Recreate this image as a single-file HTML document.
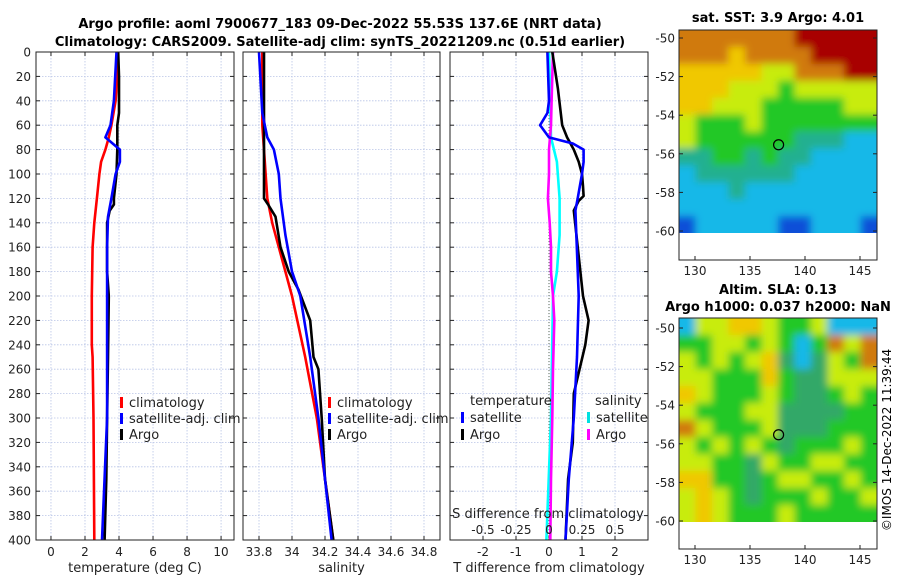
<!DOCTYPE html>
<html><head><meta charset="utf-8"><style>
body{margin:0;background:#fff;}
svg{display:block;font-family:"DejaVu Sans","Liberation Sans",sans-serif;}
</style></head><body>
<svg id="fig" width="900" height="580" viewBox="0 0 900 580">
<text x="340" y="28" text-anchor="middle" font-size="13" font-weight="bold">Argo profile: aoml 7900677_183 09-Dec-2022 55.53S 137.6E (NRT data)</text>
<text x="340" y="46" text-anchor="middle" font-size="13" font-weight="bold">Climatology: CARS2009. Satellite-adj clim: synTS_20221209.nc (0.51d earlier)</text>
<text x="778" y="22" text-anchor="middle" font-size="13" font-weight="bold">sat. SST: 3.9 Argo: 4.01</text>
<text x="778" y="294" text-anchor="middle" font-size="13" font-weight="bold">Altim. SLA: 0.13</text>
<text x="778" y="311" text-anchor="middle" font-size="13" font-weight="bold">Argo h1000: 0.037 h2000: NaN</text>
<text transform="translate(891,440) rotate(-90)" text-anchor="middle" font-size="12">©IMOS 14-Dec-2022 11:39:44</text>
<defs><filter id="bl"><feGaussianBlur stdDeviation="4"/></filter>
<clipPath id="c1"><rect x="679" y="30" width="198" height="203"/></clipPath>
<clipPath id="c2"><rect x="679" y="318" width="198" height="204"/></clipPath></defs>
<g id="g"></g>
</svg>
<script>
// ---- data ----
const depthTicks=[0,20,40,60,80,100,120,140,160,180,200,220,240,260,280,300,320,340,360,380,400];
const tempTicks=[0,2,4,6,8,10];
const salTicks=[33.8,34,34.2,34.4,34.6,34.8];
const tdiffTicks=[-2,-1,0,1,2];
const sdiffTicks=[-0.5,-0.25,0,0.25,0.5];
const sdiffTickLabels=["-0.5","-0.25","0","0.25","0.5"];
const climTempDepth=[0,20,40,60,70,80,90,100,120,140,160,200,240,250,300,400];
const climTemp=[3.9,3.9,3.8,3.55,3.4,3.2,2.95,2.85,2.7,2.55,2.45,2.4,2.4,2.45,2.5,2.55];
const satTempDepth=[0,40,60,70,80,90,100,120,135,160,200,300,400];
const satTemp=[3.85,3.7,3.5,3.2,4.05,4.05,3.8,3.55,3.35,3.3,3.3,3.3,3.0];
const argoTempDepth=[0,20,50,60,80,100,120,125,130,140,180,200,250,300,350,400];
const argoTemp=[3.95,4.0,4.0,3.9,3.9,3.85,3.7,3.7,3.45,3.3,3.3,3.4,3.35,3.3,3.25,3.15];
const climSalDepth=[0,60,120,140,160,200,250,300,350,400];
const climSal=[33.82,33.82,33.85,33.88,33.92,34.0,34.08,34.15,34.2,34.25];
const satSalDepth=[0,50,70,80,100,120,150,180,200,250,300,350,400];
const satSal=[33.8,33.82,33.85,33.89,33.92,33.93,33.96,34.0,34.05,34.11,34.16,34.2,34.24];
const argoSalDepth=[0,60,80,100,120,125,135,160,180,195,220,250,260,300,350,400];
const argoSal=[33.83,33.83,33.83,33.83,33.83,33.855,33.9,33.93,33.98,34.04,34.11,34.13,34.16,34.18,34.2,34.25];
const tdSatDepth=[0,40,50,60,70,75,80,90,100,120,130,200,250,300,350,400];
const tdSat=[-0.05,0,-0.05,-0.27,0,0.72,1.05,1.05,1.0,0.87,0.8,0.9,0.85,0.75,0.6,0.5];
const tdArgoDepth=[0,30,60,70,80,90,100,110,118,122,130,200,220,240,280,320,350,400];
const tdArgo=[0.1,0.27,0.4,0.55,0.75,0.9,1.0,1.03,1.05,0.9,0.75,1.03,1.2,1.1,0.75,0.72,0.58,0.5];
const sdSatDepth=[0,70,90,120,150,180,200,300,400];
const sdSat=[0,0.015,0.06,0.08,0.08,0.06,0.03,0.015,-0.02];
const sdArgoDepth=[0,40,60,80,100,120,140,160,180,200,220,260,300,350,400];
const sdArgo=[0.03,0.02,0.015,0,0,-0.008,0.005,0.015,0.015,0.03,0.04,0.03,0.025,0.015,0.01];
const lonTicks=[130,135,140,145];
const latTicks=[-50,-52,-54,-56,-58,-60];
const argoLon=137.6, argoLat=-55.53;
const sstGrid=["OOOOOOORRRRR","OOOYOOOORRRR","YYYYYyyOOORR","YYYyyyGyyyyy","YYyyyGGGGGyy","yGGGyGGGGGGG","yGGGGGGTTTCC","TTGGTGTTCCCC","CTTTTTTCCCCC","CCCTCCCCCCCC","CCCCCCCCCCCC","BCCCCCBBCCCB"];
const slaGrid=["CyyYYyGGyCCC","GGyyGyGCGOyO","yGyGyYDCDyGO","yyGGGYGDDyyy","YyGGGyGDDGyG","yGGGyyDDDDGG","OyGGGyDDDGGG","yGyGyGDGGGyG","yyGGDyGGyyGG","YYGGDGyyGGyG","yYyGDGGGyGGy","yYyGGGyGGGGG"];
// ---- helpers ----
const NS="http://www.w3.org/2000/svg";
const G=document.getElementById('g');
function mk(t,a,p){const e=document.createElementNS(NS,t);for(const k in a)e.setAttribute(k,a[k]);(p||G).appendChild(e);return e;}
const Y0=52,Y1=540;
const yD=d=>Y0+(d/400)*(Y1-Y0);
const panels=[
 {x0:36,x1:234,min:-0.88,max:10.76,ticks:tempTicks,labels:tempTicks.map(String),xl:"temperature (deg C)",name:"temperature-panel"},
 {x0:243,x1:440,min:33.703,max:34.897,ticks:salTicks,labels:salTicks.map(String),xl:"salinity",name:"salinity-panel"},
 {x0:450,x1:648,min:-3,max:3,ticks:tdiffTicks,labels:tdiffTicks.map(String),xl:"T difference from climatology",name:"difference-panel"}];
panels.forEach((p,i)=>{
 p.sx=v=>p.x0+(v-p.min)/(p.max-p.min)*(p.x1-p.x0);
 const gp=mk('g',{});
 
 
 p.g=gp;
 depthTicks.forEach(d=>{
  const l=mk('line',{x1:p.x0,x2:p.x1,y1:yD(d),y2:yD(d),stroke:'#b8c4e6','stroke-width':0.8,'stroke-dasharray':'1.5,1.5'},gp);
  
  
  mk('line',{x1:p.x0,x2:p.x0+4,y1:yD(d),y2:yD(d),stroke:'#222'},gp);
  mk('line',{x1:p.x1,x2:p.x1-4,y1:yD(d),y2:yD(d),stroke:'#222'},gp);
  if(i==0){const t=mk('text',{x:p.x0-5,y:yD(d)+4.5,'text-anchor':'end','font-size':12,fill:'#222'},gp);t.textContent=d;
   }
 });
 p.ticks.forEach((v,k)=>{
  const x=p.sx(v);
  const l=mk('line',{x1:x,x2:x,y1:Y0,y2:Y1,stroke:'#b8c4e6','stroke-width':0.8,'stroke-dasharray':'1.5,1.5'},gp);
  
  
  mk('line',{x1:x,x2:x,y1:Y1,y2:Y1-4,stroke:'#222'},gp);
  mk('line',{x1:x,x2:x,y1:Y0,y2:Y0+4,stroke:'#222'},gp);
  const t=mk('text',{x:x,y:556,'text-anchor':'middle','font-size':12,fill:'#222'},gp);t.textContent=p.labels[k];
  
 });
 const t=mk('text',{x:(p.x0+p.x1)/2,y:572,'text-anchor':'middle','font-size':13,fill:'#222'},gp);t.textContent=p.xl;
 
});
function line(p,ds,vs,col,name,scale){
 const pts=ds.map((d,k)=>p.sx(vs[k]*(scale||1)).toFixed(1)+','+yD(d).toFixed(1)).join(' ');
 const e=mk('polyline',{points:pts,fill:'none',stroke:col,'stroke-width':2.6,'stroke-linejoin':'round'},p.g);
 
 
}
const [P1,P2,P3]=panels;
line(P1,climTempDepth,climTemp,'#ff0000','clim-temperature-line');
line(P1,argoTempDepth,argoTemp,'#000','argo-temperature-line');
line(P1,satTempDepth,satTemp,'#0000ff','sat-temperature-line');
line(P2,climSalDepth,climSal,'#ff0000','clim-salinity-line');
line(P2,argoSalDepth,argoSal,'#000','argo-salinity-line');
line(P2,satSalDepth,satSal,'#0000ff','sat-salinity-line');
{const z=mk('line',{x1:P3.sx(0),x2:P3.sx(0),y1:Y0,y2:Y1,stroke:'#586858','stroke-width':1,'stroke-dasharray':'1,2'},P3.g);
 }
line(P3,sdSatDepth,sdSat,'#00ffff','sat-salinity-diff-line',4);
line(P3,sdArgoDepth,sdArgo,'#ff00ff','argo-salinity-diff-line',4);
line(P3,tdArgoDepth,tdArgo,'#000','argo-temperature-diff-line');
line(P3,tdSatDepth,tdSat,'#0000ff','sat-temperature-diff-line');
// S diff axis labels
{const t=mk('text',{x:548,y:518,'text-anchor':'middle','font-size':13,fill:'#222'},P3.g);t.textContent='S difference from climatology';
 }
sdiffTicks.forEach((v,k)=>{const t=mk('text',{x:P3.sx(v*4),y:534,'text-anchor':'middle','font-size':12,fill:'#222'},P3.g);t.textContent=sdiffTickLabels[k];
 });
panels.forEach(p=>{const r=mk('rect',{x:p.x0,y:Y0,width:p.x1-p.x0,height:Y1-Y0,fill:'none',stroke:'#222','stroke-width':1},p.g);
 });
// legends
function leg(x,y,col,txt,p){
 const g=mk('g',{},p.g);
 
 
 if(col)mk('rect',{x:x,y:y-10,width:3,height:11,fill:col},g);
 const t=mk('text',{x:x+(col?9:0),y:y,'font-size':13,fill:'#222'},g);t.textContent=txt;
}
leg(120,407,'#ff0000','climatology',P1);leg(120,423,'#0000ff','satellite-adj. clim',P1);leg(120,439,'#000','Argo',P1);
leg(328,407,'#ff0000','climatology',P2);leg(328,423,'#0000ff','satellite-adj. clim',P2);leg(328,439,'#000','Argo',P2);
leg(470,405,null,'temperature',P3);leg(461,422,'#0000ff','satellite',P3);leg(461,439,'#000','Argo',P3);
leg(595,405,null,'salinity',P3);leg(587,422,'#00e0e0','satellite',P3);leg(587,439,'#ff00ff','Argo',P3);
// maps
const pal={R:'#a80000',O:'#d07a10',Y:'#f0c800',y:'#c8ec10',G:'#20c828',T:'#20b090',C:'#18b8e8',B:'#1050d8',D:'#30a868'};
function map(grid,x0,y0,w,h,clip,name,latTop){
 const g=mk('g',{});
 
 
 const cg=mk('g',{'clip-path':'url(#'+clip+')'},g);
 const ig=mk('g',{filter:'url(#bl)'},cg);
 const n=grid.length,m=grid[0].length,cw=w/m,ch=h/n;
 grid.forEach((row,r)=>[...row].forEach((c,k)=>{mk('rect',{x:x0+k*cw-(k==0?8:0),y:y0+r*ch-(r==0?8:0),width:cw+1+(k==0||k==m-1?8:0),height:ch+1+(r==0||r==n-1?8:0),fill:pal[c]},ig);}));
 const lx=v=>695+(v-130)*11;
 const ly=v=>latTop+(-50-v)*19.3;
 const frameB=y0+h+27;
 mk('rect',{x:x0,y:y0,width:w,height:frameB-y0,fill:'none',stroke:'#222'},g);
 lonTicks.forEach(v=>{mk('line',{x1:lx(v),x2:lx(v),y1:frameB,y2:frameB-4,stroke:'#222'},g);
  const t=mk('text',{x:lx(v),y:frameB+15,'text-anchor':'middle','font-size':12,fill:'#222'},g);t.textContent=v;
  });
 latTicks.forEach(v=>{mk('line',{x1:x0,x2:x0+4,y1:ly(v),y2:ly(v),stroke:'#222'},g);mk('line',{x1:x0+w,x2:x0+w-4,y1:ly(v),y2:ly(v),stroke:'#222'},g);
  const t=mk('text',{x:x0-4,y:ly(v)+4.5,'text-anchor':'end','font-size':12,fill:'#222'},g);t.textContent=v;
  });
 const c=mk('circle',{cx:lx(argoLon),cy:ly(argoLat),r:5,fill:'none',stroke:'#000','stroke-width':1.2},g);
 
 
}
map(sstGrid,679,30,198,203,'c1','sst-map',38);
map(slaGrid,679,318,198,204,'c2','sla-map',328);
</script>
</body></html>
